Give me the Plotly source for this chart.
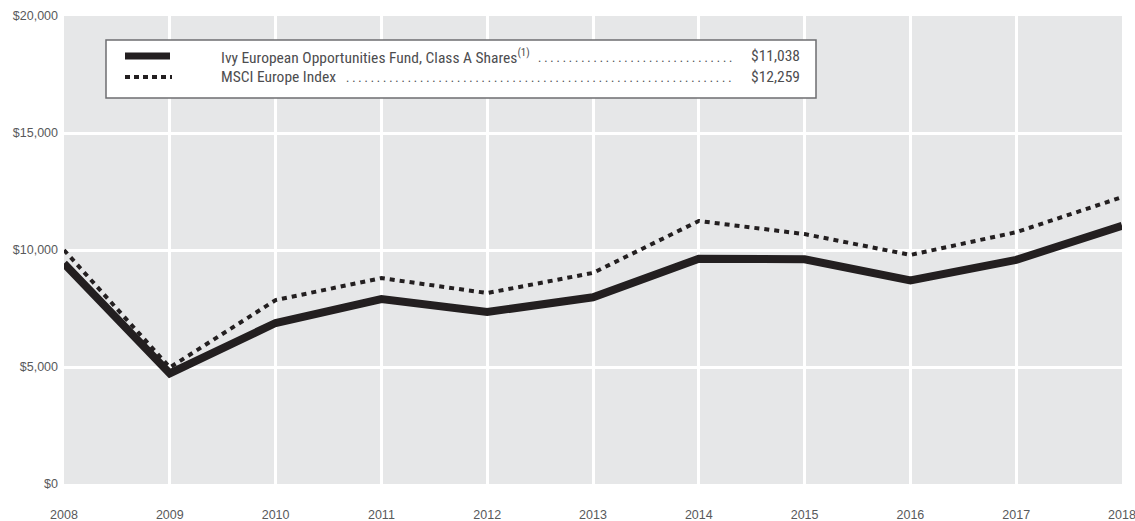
import plotly.graph_objects as go

years = [2008, 2009, 2010, 2011, 2012, 2013, 2014, 2015, 2016, 2017, 2018]
fund_values = [9425, 4725, 6880, 7900, 7350, 7980, 9630, 9600, 8700, 9580, 11038]
msci_values = [10000, 4980, 7860, 8800, 8160, 9020, 11240, 10680, 9790, 10760, 12259]
fund_name = "Ivy European Opportunities Fund, Class A Shares"
msci_name = "MSCI Europe Index"
fund_final = "$11,038"
msci_final = "$12,259"
y_ticks = [0, 5000, 10000, 15000, 20000]
y_tick_labels = ["$0", "$5,000", "$10,000", "$15,000", "$20,000"]

TXT = "#4d4d4f"
FONT_N = "Liberation Sans Narrow, Roboto Condensed, Arial Narrow, sans-serif"
FONT = "Liberation Sans, Arial, sans-serif"

fig = go.Figure()
fig.add_trace(go.Scatter(x=years, y=msci_values, mode="lines", name=msci_name,
                         line=dict(color="#231f20", width=4, dash="5px,5px"),
                         showlegend=False))
fig.add_trace(go.Scatter(x=years, y=fund_values, mode="lines", name=fund_name,
                         line=dict(color="#231f20", width=8),
                         showlegend=False))

W, H = 1058.0, 468.0
def px(x):
    return (x - 64) / W
def py(y):
    return (484 - y) / H

shapes = [
    dict(type="rect", xref="paper", yref="paper", x0=px(106), x1=px(816), y0=py(98), y1=py(40),
         line=dict(color="#6d6e70", width=1.5), fillcolor="white", layer="above"),
    dict(type="line", xref="paper", yref="paper", x0=px(125), x1=px(170), y0=py(56), y1=py(56),
         line=dict(color="#231f20", width=7), layer="above"),
    dict(type="line", xref="paper", yref="paper", x0=px(125), x1=px(172), y0=py(77), y1=py(77),
         line=dict(color="#231f20", width=4, dash="5px,4px"), layer="above"),
]

LF = dict(family=FONT_N, size=15.5, color=TXT)
DF = dict(family=FONT_N, size=12.5, color=TXT)

def dots(n):
    return " ".join(["."] * n)

annotations = [
    dict(xref="paper", yref="paper", x=px(219), y=py(56), xanchor="left", yanchor="middle",
         text=fund_name + "<sup>(1)</sup>", showarrow=False, font=LF),
    dict(xref="paper", yref="paper", x=px(219), y=py(77), xanchor="left", yanchor="middle",
         text=msci_name, showarrow=False, font=LF),
    dict(xref="paper", yref="paper", x=px(734), y=py(57), xanchor="right", yanchor="middle",
         text=dots(32), showarrow=False, font=DF),
    dict(xref="paper", yref="paper", x=px(734), y=py(78), xanchor="right", yanchor="middle",
         text=dots(63), showarrow=False, font=DF),
    dict(xref="paper", yref="paper", x=px(802), y=py(56), xanchor="right", yanchor="middle",
         text=fund_final, showarrow=False, font=LF),
    dict(xref="paper", yref="paper", x=px(802), y=py(77), xanchor="right", yanchor="middle",
         text=msci_final, showarrow=False, font=LF),
]

TF = dict(family=FONT, size=12.5, color="#58595b")
fig.update_layout(
    width=1135, height=521,
    margin=dict(l=64, r=13, t=16, b=37),
    paper_bgcolor="white", plot_bgcolor="#e6e7e8",
    shapes=shapes, annotations=annotations,
    xaxis=dict(range=[2008, 2018], tickvals=years, ticktext=[str(y) for y in years],
               showgrid=True, gridcolor="white", gridwidth=3, zeroline=False,
               showline=False, ticks="", ticklabelstandoff=21, automargin=False,
               ticklabeloverflow="allow", tickfont=TF),
    yaxis=dict(range=[0, 20000], tickvals=y_ticks, ticktext=y_tick_labels,
               showgrid=True, gridcolor="white", gridwidth=3, zeroline=False,
               showline=False, ticks="", ticklabelstandoff=5, automargin=False,
               ticklabeloverflow="allow", tickfont=TF),
)

fig.write_html("out.html", config={"displayModeBar": False},
               post_script="document.body.style.margin='0';document.body.style.overflow='hidden';")
